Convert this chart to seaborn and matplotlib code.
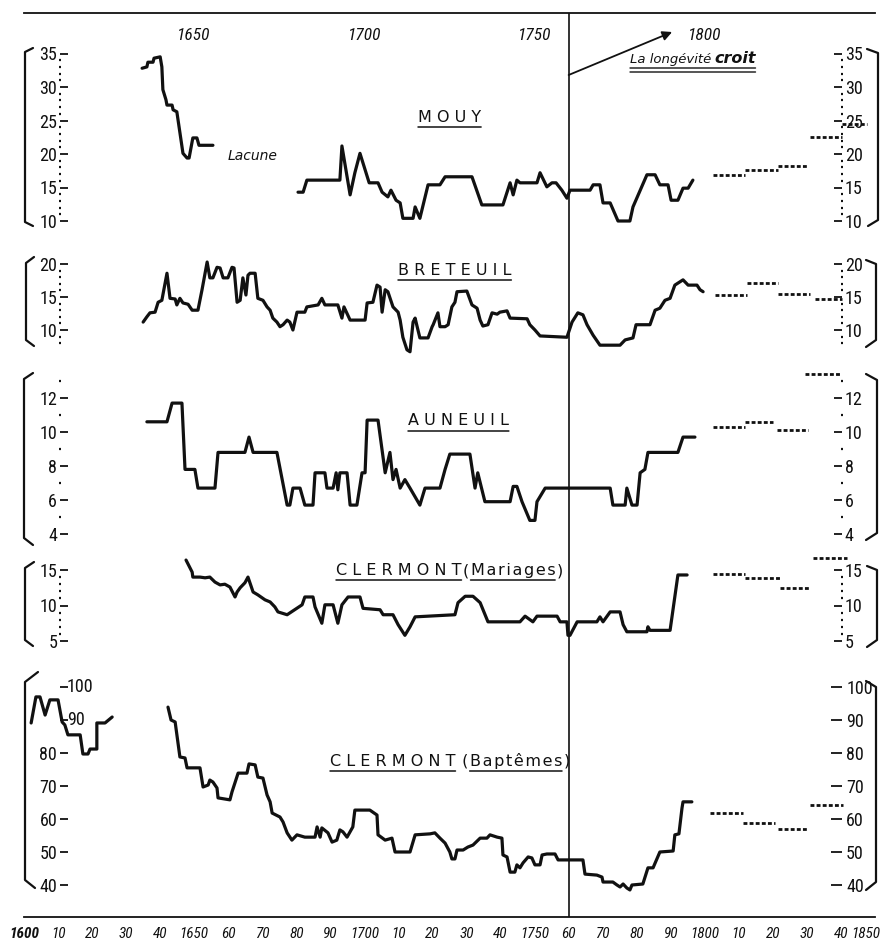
import matplotlib
matplotlib.use("Agg")
import matplotlib.pyplot as plt
from matplotlib.ticker import FixedLocator
import seaborn as sns

# ------------------------------------------------------------------ data
# MOUY (two segments, gap = "Lacune")
mouy1_years = [1634.7, 1636.1, 1636.4, 1637.9, 1638.2, 1640.0, 1640.5, 1640.8, 1641.7, 1642.0,
               1643.5, 1643.8, 1644.9, 1646.7, 1647.9, 1648.5, 1649.6, 1650.8, 1651.4, 1655.5]
mouy1_vals = [32.8, 33.0, 33.7, 33.7, 34.3, 34.5, 33.0, 29.6, 28.1, 27.3,
              27.3, 26.6, 26.3, 20.1, 19.4, 19.4, 22.4, 22.4, 21.3, 21.3]
mouy2_years = [1680.5, 1682.0, 1683.1, 1692.8, 1693.4, 1695.8, 1697.2, 1698.7, 1701.4, 1704.0,
               1705.2, 1706.9, 1707.8, 1709.3, 1710.5, 1711.3, 1714.3, 1714.9, 1716.3, 1718.7,
               1722.2, 1723.7, 1731.6, 1734.5, 1740.7, 1742.8, 1743.7, 1744.8, 1745.7, 1750.7,
               1751.6, 1753.6, 1755.1, 1756.3, 1758.0, 1759.5, 1760.4, 1766.3, 1767.2, 1769.2,
               1770.1, 1772.2, 1774.5, 1778.0, 1778.9, 1783.0, 1785.4, 1786.8, 1789.2, 1790.1,
               1792.1, 1793.6, 1795.1, 1796.5]
mouy2_vals = [14.3, 14.3, 16.1, 16.1, 21.2, 13.9, 17.2, 20.1, 15.7, 15.7,
              14.3, 13.6, 14.6, 13.1, 12.7, 10.4, 10.4, 12.1, 10.4, 15.4,
              15.4, 16.6, 16.6, 12.4, 12.4, 15.7, 13.9, 16.1, 15.7, 15.7,
              17.2, 15.1, 15.7, 15.7, 14.6, 13.4, 14.6, 14.6, 15.4, 15.4,
              12.7, 12.7, 10.0, 10.0, 12.1, 16.9, 16.9, 15.4, 15.4, 13.1,
              13.1, 14.9, 14.9, 16.1]
mouy_dash_start = [1802.4, 1811.8, 1821.5, 1831.0, 1840.3]
mouy_dash_end = [1811.8, 1821.5, 1830.0, 1840.3, 1847.7]
mouy_dash_vals = [16.9, 17.6, 18.2, 22.5, 24.5]

# BRETEUIL
bret_years = [1635.0, 1636.1, 1637.0, 1638.5, 1639.4, 1640.5, 1642.0, 1642.9, 1644.4, 1644.9,
              1645.8, 1646.7, 1648.2, 1649.4, 1651.1, 1652.3, 1653.8, 1654.6, 1655.5, 1656.7,
              1657.6, 1658.5, 1659.9, 1661.1, 1661.7, 1662.6, 1663.5, 1664.3, 1665.2, 1665.8,
              1666.4, 1667.9, 1668.7, 1670.2, 1671.4, 1672.3, 1673.1, 1674.3, 1675.2, 1676.1,
              1677.3, 1678.1, 1679.0, 1680.2, 1682.5, 1683.1, 1686.4, 1687.5, 1688.4, 1689.9,
              1692.2, 1693.4, 1694.0, 1695.8, 1700.2, 1700.8, 1702.5, 1703.7, 1704.6, 1705.2,
              1706.1, 1706.9, 1708.4, 1709.9, 1710.5, 1711.3, 1712.5, 1713.4, 1714.3, 1714.9,
              1715.5, 1716.3, 1718.7, 1719.9, 1720.2, 1721.6, 1722.2, 1723.7, 1724.6, 1725.7,
              1726.6, 1727.2, 1730.1, 1731.6, 1733.1, 1734.0, 1734.8, 1736.3, 1737.5, 1739.0,
              1739.8, 1741.9, 1742.8, 1747.8, 1748.6, 1750.1, 1751.6, 1759.5, 1761.0, 1762.7,
              1764.2, 1765.4, 1767.2, 1769.2, 1775.1, 1776.6, 1778.9, 1779.8, 1783.9, 1785.4,
              1786.8, 1788.3, 1789.8, 1791.2, 1792.7, 1793.6, 1795.1, 1797.7, 1798.6, 1799.5]
bret_vals = [11.2, 12.0, 12.6, 12.7, 14.2, 14.5, 18.6, 14.8, 14.7, 13.8,
             14.8, 14.1, 13.9, 13.0, 13.0, 16.1, 20.3, 17.9, 17.9, 19.5,
             19.4, 17.9, 17.9, 19.5, 19.4, 14.2, 14.5, 17.9, 15.3, 18.3,
             18.6, 18.6, 14.8, 14.5, 13.5, 13.0, 11.8, 11.2, 10.5, 10.8,
             11.5, 11.2, 10.0, 12.7, 12.7, 13.5, 13.8, 14.8, 13.8, 13.8,
             13.8, 11.8, 13.5, 11.5, 11.5, 14.1, 14.2, 16.8, 16.5, 12.7,
             16.1, 15.8, 13.5, 12.7, 11.5, 8.9, 7.0, 6.7, 11.2, 11.8,
             10.5, 8.8, 8.8, 10.5, 10.8, 12.6, 10.5, 10.5, 10.8, 13.5,
             14.2, 15.8, 15.9, 13.8, 13.3, 11.5, 10.6, 10.8, 12.6, 12.4,
             12.7, 12.9, 11.8, 11.7, 10.8, 10.0, 9.1, 8.9, 11.2, 12.6,
             12.3, 10.8, 9.2, 7.7, 7.7, 8.5, 8.8, 10.8, 10.8, 13.0,
             13.3, 14.5, 14.8, 16.8, 17.3, 17.6, 16.8, 16.8, 16.1, 15.8]
bret_dash_start = [1803.0, 1812.4, 1821.5, 1832.4]
bret_dash_end = [1812.4, 1821.5, 1830.9, 1840.3]
bret_dash_vals = [15.3, 17.1, 15.5, 14.7]

# AUNEUIL
aun_years = [1636.1, 1642.0, 1643.5, 1646.4, 1647.3, 1650.2, 1651.1, 1656.1, 1657.0, 1664.9,
             1666.1, 1667.3, 1674.3, 1677.3, 1678.1, 1679.0, 1681.1, 1682.5, 1684.9, 1685.5,
             1688.4, 1689.0, 1690.8, 1691.7, 1692.2, 1692.8, 1694.9, 1695.8, 1697.8, 1699.3,
             1700.2, 1700.8, 1704.0, 1706.1, 1707.5, 1708.4, 1709.3, 1710.5, 1711.9, 1713.4,
             1716.3, 1717.8, 1722.2, 1723.7, 1725.1, 1731.0, 1732.5, 1733.3, 1735.4, 1742.8,
             1743.7, 1744.8, 1746.3, 1748.6, 1750.1, 1750.7, 1753.1, 1772.2, 1773.0, 1776.6,
             1777.1, 1778.6, 1780.1, 1781.0, 1782.4, 1783.3, 1792.1, 1793.6, 1797.1]
aun_vals = [10.6, 10.6, 11.7, 11.7, 7.8, 7.8, 6.7, 6.7, 8.8, 8.8,
            9.7, 8.8, 8.8, 5.7, 5.7, 6.7, 6.7, 5.7, 5.7, 7.6,
            7.6, 6.7, 6.7, 7.6, 6.6, 7.6, 7.6, 5.7, 5.7, 7.6,
            7.6, 10.7, 10.7, 7.6, 8.8, 7.2, 7.8, 6.7, 7.2, 6.7,
            5.7, 6.7, 6.7, 7.8, 8.7, 8.7, 6.7, 7.6, 5.9, 5.9,
            6.8, 6.8, 5.9, 4.8, 4.8, 5.9, 6.7, 6.7, 5.7, 5.7,
            6.7, 5.7, 5.7, 7.6, 7.8, 8.8, 8.8, 9.7, 9.7]
aun_dash_start = [1802.4, 1811.8, 1821.2, 1829.4]
aun_dash_end = [1811.8, 1820.0, 1830.3, 1839.7]
aun_dash_vals = [10.3, 10.6, 10.1, 13.4]

# CLERMONT (Mariages)
mar_years = [1647.6, 1649.4, 1649.6, 1651.7, 1653.2, 1654.6, 1656.1, 1657.6, 1659.0, 1660.5,
             1662.0, 1662.6, 1663.5, 1664.9, 1665.8, 1667.3, 1668.7, 1670.8, 1672.3, 1673.7,
             1674.6, 1677.3, 1681.7, 1682.5, 1684.9, 1685.5, 1687.5, 1688.4, 1690.8, 1692.2,
             1693.4, 1695.2, 1698.7, 1699.6, 1704.6, 1705.5, 1708.4, 1709.9, 1711.9, 1713.4,
             1714.9, 1726.6, 1727.5, 1729.6, 1731.9, 1734.0, 1736.3, 1745.7, 1747.2, 1749.5,
             1750.7, 1756.6, 1757.5, 1759.5, 1759.8, 1760.4, 1762.5, 1768.3, 1769.2, 1770.1,
             1772.2, 1775.1, 1776.0, 1777.1, 1783.0, 1783.3, 1783.9, 1789.8, 1792.1, 1794.8]
mar_vals = [16.4, 14.7, 14.0, 14.0, 13.9, 14.0, 13.3, 12.9, 13.0, 12.6,
            11.2, 11.9, 12.5, 13.2, 14.0, 11.9, 11.5, 10.8, 10.5, 9.8,
            9.1, 8.7, 10.1, 11.2, 11.2, 9.8, 7.5, 10.1, 10.1, 7.5,
            10.1, 11.2, 11.2, 9.6, 9.4, 8.7, 8.7, 7.3, 5.8, 7.0,
            8.4, 8.7, 10.4, 11.3, 11.3, 10.4, 7.7, 7.7, 8.5, 7.7,
            8.5, 8.5, 7.7, 7.7, 5.8, 5.8, 7.7, 7.7, 8.4, 7.7,
            9.1, 9.1, 7.3, 6.3, 6.3, 7.0, 6.5, 6.5, 14.3, 14.3]
mar_dash_start = [1802.4, 1811.8, 1822.1, 1831.8]
mar_dash_end = [1811.8, 1822.1, 1830.9, 1841.8]
mar_dash_vals = [14.4, 13.9, 12.5, 16.7]

# CLERMONT (Baptemes)
bap1_years = [1602.1, 1603.5, 1604.7, 1606.2, 1607.6, 1610.0, 1611.2, 1612.0, 1612.9, 1616.5,
              1617.3, 1618.8, 1619.4, 1621.4, 1621.4, 1623.8, 1625.9]
bap1_vals = [89.1, 97.0, 97.0, 91.5, 96.1, 96.1, 89.4, 88.5, 85.5, 85.5,
             79.7, 79.7, 81.2, 81.2, 89.1, 89.1, 90.9]
bap2_years = [1642.3, 1643.2, 1644.4, 1645.8, 1647.3, 1647.9, 1651.7, 1652.6, 1654.1, 1654.6,
              1655.5, 1656.7, 1657.0, 1660.5, 1661.1, 1662.9, 1665.5, 1666.1, 1667.9, 1668.7,
              1670.2, 1671.4, 1672.3, 1672.9, 1675.2, 1676.1, 1677.3, 1678.7, 1680.2, 1682.5,
              1685.5, 1686.1, 1687.0, 1687.5, 1689.3, 1690.5, 1691.9, 1692.8, 1693.7, 1694.9,
              1696.6, 1697.2, 1701.6, 1703.7, 1704.0, 1706.1, 1708.1, 1709.0, 1713.4, 1714.9,
              1719.3, 1720.7, 1722.2, 1723.7, 1725.1, 1725.7, 1726.6, 1727.2, 1729.0, 1730.4,
              1731.9, 1734.0, 1736.0, 1736.9, 1739.0, 1740.4, 1740.7, 1741.9, 1742.8, 1744.2,
              1744.8, 1745.7, 1746.6, 1748.1, 1749.2, 1750.1, 1751.6, 1752.2, 1753.6, 1756.0,
              1756.9, 1764.2, 1764.8, 1768.3, 1769.8, 1770.1, 1773.0, 1774.2, 1775.1, 1776.0,
              1777.1, 1778.0, 1778.6, 1781.8, 1783.3, 1784.8, 1786.8, 1790.7, 1791.2, 1792.4,
              1793.3, 1793.6, 1796.2]
bap2_vals = [93.9, 90.0, 89.4, 78.8, 78.5, 75.5, 75.5, 69.7, 70.3, 71.8,
             71.2, 69.4, 66.4, 65.8, 68.2, 73.9, 73.9, 76.7, 76.4, 72.7,
             72.4, 67.3, 65.2, 61.8, 60.6, 59.1, 55.8, 53.6, 55.2, 54.5,
             54.5, 57.6, 54.5, 57.3, 55.8, 53.0, 53.6, 56.7, 56.1, 54.5,
             57.6, 62.7, 62.7, 61.2, 55.2, 53.6, 54.2, 50.0, 50.0, 55.2,
             55.5, 55.8, 54.2, 52.7, 50.0, 47.9, 47.9, 50.6, 50.6, 51.5,
             52.1, 54.2, 54.2, 55.2, 54.5, 54.2, 49.1, 48.5, 43.9, 43.9,
             46.1, 45.2, 46.7, 48.5, 48.2, 46.1, 46.1, 49.1, 49.4, 49.4,
             47.6, 47.6, 43.3, 43.0, 42.4, 40.9, 40.9, 40.0, 39.4, 40.3,
             39.1, 38.5, 40.0, 40.3, 45.2, 45.2, 50.0, 50.3, 55.2, 55.5,
             63.3, 65.2, 65.2]
bap_dash_start = [1801.5, 1811.2, 1821.5, 1830.9]
bap_dash_end = [1811.2, 1820.6, 1830.3, 1840.6]
bap_dash_vals = [61.8, 58.8, 57.0, 64.2]

# tick values / labels
mouy_ticks = [10, 15, 20, 25, 30, 35]
mouy_minor = list(range(10, 36))
bret_ticks = [10, 15, 20]
bret_minor = list(range(8, 21))
aun_ticks = [4, 6, 8, 10, 12]
aun_minor = [5, 7, 9, 11, 13]
mar_ticks = [5, 10, 15]
mar_minor = list(range(5, 16))
bap_ticks = [40, 50, 60, 70, 80, 90, 100]
bap_left_shifted = [90, 100]
bottom_years = list(range(1600, 1851, 10))
bottom_labels = ["1600", "10", "20", "30", "40", "1650", "60", "70", "80", "90",
                 "1700", "10", "20", "30", "40", "1750", "60", "70", "80", "90",
                 "1800", "10", "20", "30", "40", "1850"]
top_years = list(range(1600, 1851, 10))
top_labelled = [1650, 1700, 1750, 1800]
pivot_year = 1760

# ------------------------------------------------------------------ layout
W, H, DPI = 884, 939, 100
YEAR0, YEAR1 = 1600, 1850
X_Y0, X_Y1 = 24, 875          # pixel columns of 1600 and 1850
P_LEFT, P_RIGHT = 60, 842     # pixel columns of the panel y-axes
INK = "#111111"
LW = 2.3
NUM_FONT = ["Roboto Condensed", "Roboto", "DejaVu Sans"]
TITLE_FONT = ["DejaVu Sans"]
TICK_SIZE = 13

def year_at(px):
    return YEAR0 + (px - X_Y0) * (YEAR1 - YEAR0) / (X_Y1 - X_Y0)

sns.set_style("white")
plt.rcParams["font.family"] = NUM_FONT
plt.rcParams["axes.unicode_minus"] = False

fig = plt.figure(figsize=(W / DPI, H / DPI), dpi=DPI)
fig.patch.set_facecolor("white")

def px_axes(x0, y0, x1, y1):
    ax = fig.add_axes([x0 / W, 1 - y1 / H, (x1 - x0) / W, (y1 - y0) / H])
    ax.set_facecolor("none")
    for s in ax.spines.values():
        s.set_visible(False)
    return ax

# ---- frame: bottom year scale + 1760 line
ax_f = px_axes(X_Y0, 13, X_Y1, 917)
ax_f.set_xlim(YEAR0, YEAR1)
ax_f.set_ylim(917, 13)
ax_f.spines["bottom"].set_visible(True)
ax_f.spines["bottom"].set_linewidth(1.3)
ax_f.spines["bottom"].set_color(INK)
ax_f.set_yticks([])
ax_f.set_xticks(bottom_years)
ax_f.set_xticklabels(bottom_labels[:-1] + [""], fontstyle="italic", fontsize=11, color=INK)
ax_f.tick_params(axis="x", direction="in", length=3, width=1.2, pad=7, colors=INK)
ax_f.get_xticklabels()[0].set_fontweight("bold")
long_bottom = {1600: 7, 1650: 7, 1700: 7, 1750: 11, 1800: 7, 1850: 5}
for tk, yr in zip(ax_f.xaxis.get_major_ticks(), bottom_years):
    if yr in long_bottom:
        tk.tick1line.set_markersize(long_bottom[yr])
# last label of the scale sits just left of its tick, as in the print
ax_f.annotate(bottom_labels[-1], xy=(bottom_years[-1], 917), xycoords="data",
              xytext=(3.5, -7), textcoords="offset points", ha="right", va="top",
              fontstyle="italic", fontsize=11, color=INK)
ax_f.axvline(pivot_year, color=INK, lw=1.2)
ax_f.annotate("", xy=(1790.4, 32), xytext=(pivot_year, 75),
              arrowprops=dict(arrowstyle="-|>", lw=1.3, color=INK, mutation_scale=14,
                              shrinkA=0, shrinkB=0))

# ---- top year scale
ax_t = px_axes(X_Y0, 12, X_Y1, 13)
ax_t.set_xlim(YEAR0, YEAR1)
ax_t.spines["bottom"].set_visible(True)
ax_t.spines["bottom"].set_linewidth(1.3)
ax_t.spines["bottom"].set_color(INK)
ax_t.set_yticks([])
ax_t.set_xticks(top_years)
ax_t.set_xticklabels([str(y) if y in top_labelled else "" for y in top_years],
                     fontstyle="italic", fontsize=12.5, color=INK)
ax_t.tick_params(axis="x", direction="out", length=3, width=1.2, pad=8, colors=INK)
long_top = {1600: 7, 1650: 10, 1700: 6, 1750: 6, 1800: 6, 1850: 7}
for tk, yr in zip(ax_t.xaxis.get_major_ticks(), top_years):
    if yr in long_top:
        tk.tick1line.set_markersize(long_top[yr])

# ---- panels
panels = [
    dict(lo=10, hi=35, top=53.5, bot=221, major=mouy_ticks, minor=mouy_minor,
         lines=[(mouy1_years, mouy1_vals), (mouy2_years, mouy2_vals)],
         dash=(mouy_dash_start, mouy_dash_end, mouy_dash_vals)),
    dict(lo=8, hi=20, top=264, bot=343.2, major=bret_ticks, minor=bret_minor,
         lines=[(bret_years, bret_vals)],
         dash=(bret_dash_start, bret_dash_end, bret_dash_vals)),
    dict(lo=4, hi=13, top=381, bot=534, major=aun_ticks, minor=aun_minor,
         lines=[(aun_years, aun_vals)],
         dash=(aun_dash_start, aun_dash_end, aun_dash_vals)),
    dict(lo=5, hi=15, top=570, bot=641, major=mar_ticks, minor=mar_minor,
         lines=[(mar_years, mar_vals)],
         dash=(mar_dash_start, mar_dash_end, mar_dash_vals)),
    dict(lo=40, hi=100, top=687, bot=885, major=bap_ticks, minor=[],
         lines=[(bap1_years, bap1_vals), (bap2_years, bap2_vals)],
         dash=(bap_dash_start, bap_dash_end, bap_dash_vals)),
]

panel_axes = []
for p in panels:
    ax = px_axes(P_LEFT, p["top"], P_RIGHT, p["bot"])
    for xs, ys in p["lines"]:
        sns.lineplot(x=xs, y=ys, ax=ax, color=INK, linewidth=LW, estimator=None,
                     sort=False, legend=False, clip_on=False)
    s, e, v = p["dash"]
    ax.hlines(v, s, e, colors=INK, linestyles=(0, (1.4, 0.8)), linewidth=2.0, clip_on=False)
    ax.set_xlim(year_at(P_LEFT), year_at(P_RIGHT))
    ax.set_ylim(p["lo"], p["hi"])
    ax.set_xticks([])
    ax.yaxis.set_major_locator(FixedLocator(p["major"]))
    ax.yaxis.set_minor_locator(FixedLocator(p["minor"]))
    ax.tick_params(axis="y", which="major", direction="in", length=5.5, width=1.3,
                   left=True, right=True, labelleft=True, labelright=True,
                   pad=2, labelsize=TICK_SIZE, colors=INK)
    ax.tick_params(axis="y", which="minor", direction="inout", length=1.6, width=1.6,
                   left=True, right=True, colors=INK)
    panel_axes.append(ax)

# Baptemes: the two upper left labels sit right of the scale
ax_b = panel_axes[-1]
ax_b.set_yticks(bap_ticks)
ax_b.set_yticklabels(["" if t in bap_left_shifted else str(t) for t in bap_ticks])
ax_b.tick_params(axis="y", labelright=False)
ax_b2 = ax_b.twinx()
ax_b2.set_ylim(ax_b.get_ylim())
for sp in ax_b2.spines.values():
    sp.set_visible(False)
ax_b2.set_yticks(bap_ticks)
ax_b2.tick_params(axis="y", direction="in", length=8, width=1.3, pad=3,
                  labelsize=TICK_SIZE, colors=INK)
for t in bap_left_shifted:
    ax_b.annotate(str(t), xy=(0, t), xycoords=("axes fraction", "data"),
                  xytext=(5, 0), textcoords="offset points", va="center", ha="left",
                  fontsize=TICK_SIZE, color=INK)

# ---- overlay (pixel coordinates) for brackets and texts
ax_o = fig.add_axes([0, 0, 1, 1])
ax_o.set_xlim(0, W)
ax_o.set_ylim(H, 0)
ax_o.axis("off")
ax_o.set_facecolor("none")

brackets = [
    ([33, 25, 25, 33], [48, 52, 222, 226]), ([867, 878, 878, 868], [49, 53, 220, 226]),
    ([34, 26, 26, 34], [257, 263, 340, 346]), ([866, 876, 876, 866], [260, 264, 340, 347]),
    ([33, 24, 24, 33], [373, 379, 538, 545]), ([866, 877, 877, 866], [374, 380, 533, 540]),
    ([34, 25, 25, 33], [562, 568, 640, 646]), ([867, 877, 877, 867], [566, 570, 640, 647]),
    ([38, 25, 25, 35], [672, 682, 880, 888]), ([866, 876, 876, 866], [681, 687, 882, 890]),
]
for bx, by in brackets:
    ax_o.plot(bx, by, color=INK, lw=1.6, solid_joinstyle="round")

SP = " "
HAIR = "\u200a"

def ul(t, y):
    ax_o.annotate("", xy=(0, y), xycoords=(t, "data"), xytext=(1, y), textcoords=(t, "data"),
                  arrowprops=dict(arrowstyle="-", lw=1.1, color=INK, shrinkA=0, shrinkB=0))

def title(x, base, under, pieces, size=11.5):
    prev = None
    for txt, is_ul in pieces:
        if prev is None:
            t = ax_o.text(x, base, txt, fontsize=size, family=TITLE_FONT,
                          va="baseline", ha="left", color=INK)
        else:
            t = ax_o.annotate(txt, xy=(1, base), xycoords=(prev, "data"), xytext=(1.0, 0),
                              textcoords="offset points", fontsize=size,
                              family=TITLE_FONT, va="baseline", ha="left", color=INK)
        if is_ul:
            ul(t, under)
        prev = t

title(418, 122, 127, [(SP.join("MOUY"), True)])
title(398, 275, 280, [(SP.join("BRETEUIL"), True)])
title(408, 425, 431, [(SP.join("AUNEUIL"), True)])
title(336, 575, 580, [(SP.join("CLERMONT"), True), ("(", False),
                      (HAIR.join("Mariages"), True), (")", False)])
title(330, 766, 771, [(SP.join("CLERMONT"), True), (" (", False),
                      (HAIR.join("Baptêmes"), True), (")", False)])

ax_o.text(228, 160, "Lacune", fontsize=10, style="italic", family=TITLE_FONT,
          va="baseline", ha="left", color=INK)

t1 = ax_o.text(630, 63, "La longévité", fontsize=9.5, style="italic", family=TITLE_FONT,
               va="baseline", ha="left", color=INK)
t2 = ax_o.annotate("croit", xy=(1, 63), xycoords=(t1, "data"), xytext=(2, 0),
                   textcoords="offset points", fontsize=11.5, style="italic",
                   fontweight="bold", family=TITLE_FONT, va="baseline", ha="left", color=INK)
for yy in (68, 72):
    ax_o.annotate("", xy=(0, yy), xycoords=(t1, "data"), xytext=(1, yy), textcoords=(t2, "data"),
                  arrowprops=dict(arrowstyle="-", lw=1.0, color=INK, shrinkA=0, shrinkB=0))

fig.savefig("out.png", dpi=DPI, facecolor="white")
